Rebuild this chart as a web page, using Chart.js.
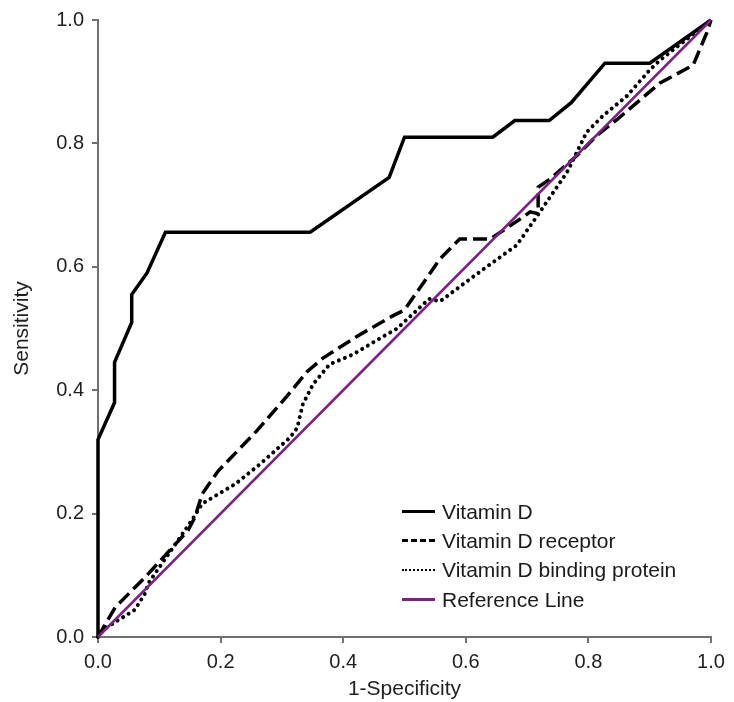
<!DOCTYPE html>
<html>
<head>
<meta charset="utf-8">
<script src="https://cdn.jsdelivr.net/npm/chart.js@4.4.1/dist/chart.umd.min.js"></script>
<style>
    body { margin: 0; background: #fff; }
    #wrap { position: relative; width: 734px; height: 702px; }
    .legend { position: absolute; left: 402px; top: 497px; font: 21px "Liberation Sans", Arial, sans-serif; color: #1a1a1a; }
    .legend div { height: 29.3px; display: flex; align-items: center; }
    .legend span.swatch { display: inline-block; width: 33px; height: 0; margin-right: 7px; }
</style>
</head>
<body>
<div id="wrap">
    <canvas id="roc" width="734" height="702"></canvas>
    <div class="legend">
        <div><span class="swatch" style="border-top: 3px solid #000"></span>Vitamin D</div>
        <div><span class="swatch" style="border-top: 3px dashed #000"></span>Vitamin D receptor</div>
        <div><span class="swatch" style="border-top: 2px dotted #000"></span>Vitamin D binding protein</div>
        <div><span class="swatch" style="border-top: 3px solid #7b2382"></span>Reference Line</div>
    </div>
</div>
<script>
// ── Data ───────────────────────────────────────────────────────────────────────
const vitDX = [0, 0, 0.027, 0.027, 0.055, 0.055, 0.08, 0.11, 0.346, 0.475, 0.5, 0.644, 0.68, 0.736, 0.772, 0.827, 0.9, 1];
const vitDY = [0, 0.32, 0.38, 0.445, 0.51, 0.555, 0.59, 0.656, 0.656, 0.745, 0.81, 0.81, 0.837, 0.837, 0.866, 0.93, 0.93, 1];

const receptorX = [0, 0.028, 0.077, 0.147, 0.158, 0.17, 0.196, 0.259, 0.308, 0.341, 0.367, 0.427, 0.48, 0.5, 0.558, 0.59, 0.64, 0.688, 0.705, 0.718, 0.718, 0.737, 0.781, 0.814, 0.847, 0.917, 0.971, 0.993, 1];
const receptorY = [0, 0.048, 0.097, 0.173, 0.194, 0.232, 0.269, 0.334, 0.39, 0.43, 0.452, 0.49, 0.52, 0.53, 0.613, 0.645, 0.645, 0.677, 0.689, 0.686, 0.729, 0.742, 0.78, 0.813, 0.839, 0.898, 0.927, 0.979, 1];

const bindingX = [0, 0.007, 0.06, 0.077, 0.082, 0.153, 0.17, 0.224, 0.264, 0.313, 0.325, 0.334, 0.351, 0.378, 0.416, 0.46, 0.488, 0.54, 0.558, 0.623, 0.683, 0.721, 0.765, 0.797, 0.824, 0.863, 0.9, 0.917, 1];
const bindingY = [0, 0.011, 0.044, 0.071, 0.087, 0.189, 0.216, 0.248, 0.28, 0.323, 0.339, 0.377, 0.41, 0.442, 0.458, 0.484, 0.5, 0.548, 0.544, 0.592, 0.635, 0.689, 0.753, 0.818, 0.845, 0.877, 0.919, 0.935, 1];

const refX = [0, 1];
const refY = [0, 1];

const tickValues = [0, 0.2, 0.4, 0.6, 0.8, 1.0];

// ── Helpers ───────────────────────────────────────────────────────────────────
function pairs(xs, ys) {
    return xs.map((x, i) => ({ x, y: ys[i] }));
}

const axisGray = '#707070';
const tickFont = { family: '"Liberation Sans", Arial, sans-serif', size: 20 };
const titleFont = { family: '"Liberation Sans", Arial, sans-serif', size: 21 };

function axis(title, isY) {
    return {
        type: 'linear',
        min: 0,
        max: 1,
        afterBuildTicks: s => { s.ticks = tickValues.map(v => ({ value: v })); },
        afterFit: s => {
            if (isY) s.width = 88;
            else s.height = 65;
        },
        border: { color: axisGray, width: 2 },
        grid: { drawOnChartArea: false, drawTicks: true, tickLength: 6, color: axisGray, lineWidth: 2 },
        ticks: {
            color: '#1e1e1e',
            font: tickFont,
            padding: isY ? 8 : 7,
            maxRotation: 0,
            callback: v => v.toFixed(1)
        },
        title: { display: true, text: title, color: '#1e1e1e', font: titleFont, padding: 0 }
    };
}

// ── Chart ─────────────────────────────────────────────────────────────────────
new Chart(document.getElementById('roc'), {
    type: 'line',
    data: {
        datasets: [
            {
                label: 'Vitamin D',
                data: pairs(vitDX, vitDY),
                borderColor: '#000',
                borderWidth: 3.5,
                order: 1
            },
            {
                label: 'Vitamin D receptor',
                data: pairs(receptorX, receptorY),
                borderColor: '#000',
                borderWidth: 3.5,
                borderDash: [14, 6],
                order: 1
            },
            {
                label: 'Vitamin D binding protein',
                data: pairs(bindingX, bindingY),
                borderColor: '#000',
                borderWidth: 4,
                borderDash: [0.01, 6.5],
                borderCapStyle: 'round',
                order: 1
            },
            {
                label: 'Reference Line',
                data: pairs(refX, refY),
                borderColor: '#7b2382',
                borderWidth: 2.5,
                order: 0
            }
        ]
    },
    options: {
        responsive: false,
        animation: false,
        elements: {
            point: { radius: 0 },
            line: { tension: 0, fill: false }
        },
        datasets: { line: { clip: 4 } },
        layout: { padding: { top: 17, right: 23, left: 10, bottom: 0 } },
        plugins: {
            legend: { display: false },
            tooltip: { enabled: false }
        },
        scales: {
            x: axis('1-Specificity', false),
            y: axis('Sensitivity', true)
        }
    }
});
</script>
</body>
</html>
